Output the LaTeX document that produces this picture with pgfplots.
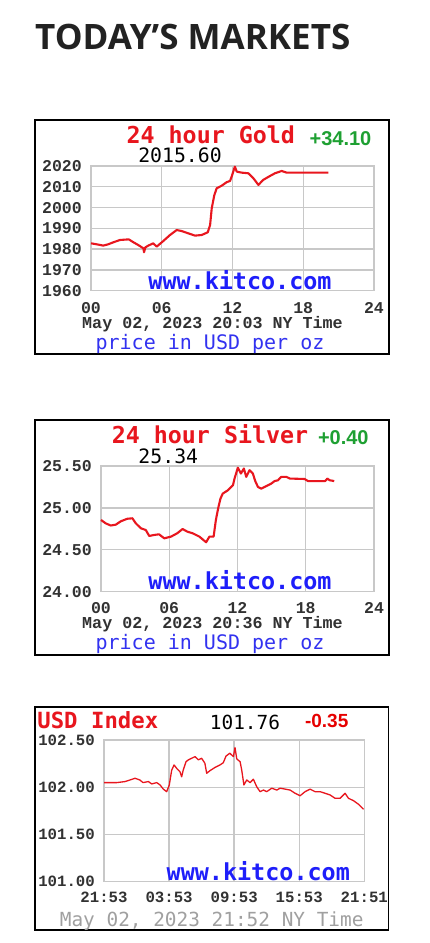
\documentclass[border=0pt]{standalone}
\usepackage{fontspec}
\usepackage{pgfplots}
\pgfplotsset{compat=1.18}
\setmainfont{Liberation Sans}
\newfontfamily\lmono{Liberation Mono}
\newfontfamily\dmono{DejaVu Sans Mono}
\newfontfamily\osans{Open Sans}
\definecolor{kred}{RGB}{232,22,30}
\definecolor{kblue}{RGB}{30,30,250}
\definecolor{pblue}{RGB}{50,50,240}
\definecolor{kgreen}{RGB}{30,160,50}
\definecolor{gridc}{RGB}{200,200,200}
\definecolor{tickc}{RGB}{50,50,50}
\definecolor{graytxt}{RGB}{160,160,160}
\newcommand{\fs}[1]{\fontsize{#1}{#1}\selectfont}
\pgfplotsset{kit/.style={scale only axis, xmin=0, xmax=24,
  grid=major, major grid style={draw=gridc, line width=1.4pt},
  axis line style={draw=gridc, line width=1.4pt},
  major tick length=0pt, xtick={0,6,12,18,24},
  tick label style={text=tickc, inner sep=0pt, font=\lmono\bfseries\fs{16.5}},
  yticklabel style={anchor=east, xshift=-9pt},
  clip=false}}
\begin{document}
\begin{tikzpicture}[x=1pt,y=1pt]
\path[use as bounding box, fill=white] (0,0) rectangle (430,943);
% Header
\node[anchor=base west, inner sep=0pt, text={rgb,255:red,34;green,34;blue,34}] at (35,893) {\osans\bfseries\fs{35}TODAY’S MARKETS};
% ---------------- GOLD ----------------
\begin{axis}[kit, at={(91pt,652.3pt)}, anchor=south west, width=283pt, height=124.7pt,
  ymin=1960, ymax=2020, ytick={1960,1970,1980,1990,2000,2010,2020},
  yticklabels={1960,1970,1980,1990,2000,2010,2020},
  xticklabels={00,06,12,18,24},
  xticklabel style={anchor=center, yshift=-17pt}]
\addplot[kred, line width=2.1pt, line join=round, no marks] coordinates {
(0,1982.8) (0.5,1982.3) (1.04,1981.7) (1.45,1982.3) (1.9,1983.3) (2.46,1984.4) (3.2,1984.7) (3.6,1983.3) (4.0,1982.0) (4.44,1980.4) (4.5,1978.5) (4.6,1980.8) (4.86,1981.7) (5.28,1982.8) (5.57,1981.2) (6.13,1983.9) (6.7,1986.8) (7.27,1989.2) (7.69,1988.7) (8.25,1987.6) (8.82,1986.5) (9.39,1986.8) (9.9,1988.1) (10.1,1991.6) (10.24,1999.7) (10.46,2006) (10.66,2009.3) (11.08,2010.5) (11.5,2012.2) (11.79,2012.8) (11.93,2014.9) (12.2,2019.7) (12.36,2017.3) (12.78,2016.8) (13.34,2016.5) (13.77,2014.1) (14.2,2010.9) (14.6,2013.3) (15.18,2015.2) (15.6,2016.5) (16.17,2017.6) (16.6,2016.8) (20.13,2016.8)
};
\end{axis}
\draw[black, line width=2pt] (35,823) rectangle (389,589);
\node[anchor=base, inner sep=0pt, text=kred] at (210.8,799) {\dmono\bfseries\fs{23.3}24 hour Gold};
\node[anchor=base, inner sep=0pt, text=kgreen] at (340.5,797.3) {\bfseries\fs{20}+34.10};
\node[anchor=base, inner sep=0pt, text=black] at (180,780.8) {\dmono\fs{19.8}2015.60};
\node[anchor=base, inner sep=0pt, text=kblue] at (240,653.5) {\dmono\bfseries\fs{23.4}www.kitco.com};
\node[anchor=base, inner sep=0pt, text=tickc] at (212.5,614) {\lmono\bfseries\fs{16.7}May 02, 2023 20:03 NY Time};
\node[anchor=base, inner sep=0pt, text=pblue] at (210,593) {\dmono\fs{20}price in USD per oz};
% ---------------- SILVER ----------------
\begin{axis}[kit, at={(101pt,351.3pt)}, anchor=south west, width=273pt, height=125.7pt,
  ymin=24, ymax=25.5, ytick={24,24.5,25,25.5},
  yticklabels={24.00,24.50,25.00,25.50},
  xticklabels={00,06,12,18,24},
  xticklabel style={anchor=center, yshift=-16.6pt}]
\addplot[kred, line width=2.1pt, line join=round, no marks] coordinates {
(0,24.856) (0.41,24.816) (0.85,24.79) (1.3,24.80) (1.74,24.84) (2.3,24.87) (2.76,24.876) (3.06,24.816) (3.5,24.757) (3.94,24.736) (4.24,24.665) (4.68,24.677) (5.1,24.685) (5.56,24.637) (6.15,24.657) (6.7,24.697) (7.17,24.748) (7.6,24.716) (8.06,24.697) (8.65,24.657) (9.24,24.59) (9.53,24.657) (9.9,24.657) (10.1,24.856) (10.3,24.995) (10.5,25.11) (10.7,25.17) (11.15,25.21) (11.45,25.25) (11.6,25.27) (11.74,25.35) (12.03,25.48) (12.3,25.41) (12.56,25.47) (12.77,25.37) (13.06,25.45) (13.35,25.41) (13.56,25.32) (13.8,25.25) (14.09,25.23) (14.53,25.26) (14.97,25.29) (15.26,25.32) (15.56,25.33) (15.85,25.37) (16.3,25.37) (16.6,25.35) (17.9,25.345) (18.2,25.32) (19.7,25.32) (19.9,25.35) (20.1,25.33) (20.5,25.32)
};
\end{axis}
\draw[black, line width=2pt] (35,523) rectangle (389,288);
\node[anchor=base, inner sep=0pt, text=kred] at (210,499) {\dmono\bfseries\fs{23.3}24 hour Silver};
\node[anchor=base, inner sep=0pt, text=kgreen] at (343.3,498) {\bfseries\fs{20}+0.40};
\node[anchor=base, inner sep=0pt, text=black] at (168.3,479.8) {\dmono\fs{19.8}25.34};
\node[anchor=base, inner sep=0pt, text=kblue] at (240,353.3) {\dmono\bfseries\fs{23.4}www.kitco.com};
\node[anchor=base, inner sep=0pt, text=tickc] at (212.5,314) {\lmono\bfseries\fs{16.7}May 02, 2023 20:36 NY Time};
\node[anchor=base, inner sep=0pt, text=pblue] at (210,293) {\dmono\fs{20}price in USD per oz};
% ---------------- USD INDEX ----------------
\begin{axis}[kit, at={(104pt,61.3pt)}, anchor=south west, width=260.3pt, height=141.7pt,
  ymin=101, ymax=102.5, ytick={101,101.5,102,102.5},
  yticklabels={101.00,101.50,102.00,102.50},
  xticklabels={21:53,03:53,09:53,15:53,21:51},
  tick label style={font=\lmono\bfseries\fs{15.7}},
  xticklabel style={anchor=center, yshift=-15.6pt}]
\addplot[kred, line width=1.3pt, line join=round, no marks] coordinates {
(0,102.049) (1.17,102.049) (1.94,102.06) (2.4,102.077) (2.86,102.095) (3.3,102.077) (3.6,102.049) (4.09,102.06) (4.4,102.035) (4.86,102.049) (5.17,102.024) (5.47,101.98) (5.78,101.953) (6.02,102.024) (6.24,102.18) (6.46,102.236) (6.7,102.20) (7.0,102.165) (7.16,102.11) (7.3,102.18) (7.56,102.27) (7.78,102.29) (8.09,102.307) (8.39,102.324) (8.7,102.29) (9.0,102.307) (9.3,102.254) (9.47,102.148) (9.78,102.176) (10.24,102.21) (10.7,102.236) (11.0,102.26) (11.25,102.33) (11.6,102.36) (11.93,102.324) (12.08,102.42) (12.24,102.30) (12.55,102.27) (12.7,102.18) (12.9,102.024) (13.16,102.077) (13.47,102.049) (13.77,102.085) (14.08,102.006) (14.39,101.953) (14.7,101.97) (15.0,101.953) (15.47,101.99) (15.93,101.97) (16.24,101.99) (16.7,101.98) (17.16,101.97) (17.62,101.936) (18.08,101.91) (18.54,101.953) (19.0,101.98) (19.46,101.953) (19.93,101.953) (20.39,101.936) (20.85,101.918) (21.3,101.883) (21.77,101.883) (22.23,101.936) (22.54,101.883) (23.0,101.858) (23.46,101.82) (23.93,101.767)
};
\end{axis}
\draw[black, line width=1.6pt] (35,235.7) rectangle (388.3,13);
\node[anchor=base, inner sep=0pt, text=kred] at (97.8,214.5) {\dmono\bfseries\fs{22.3}USD Index};
\node[anchor=base, inner sep=0pt, text=black] at (245,213) {\dmono\fs{19.4}101.76};
\node[anchor=base, inner sep=0pt, text={rgb,255:red,230;green,0;blue,0}] at (326.7,215.7) {\bfseries\fs{19}-0.35};
\node[anchor=base, inner sep=0pt, text=kblue] at (258.3,62.3) {\dmono\bfseries\fs{23.4}www.kitco.com};
\node[anchor=base, inner sep=0pt, text=graytxt] at (211.7,16.3) {\dmono\fs{19.4}May 02, 2023 21:52 NY Time};
\end{tikzpicture}
\end{document}
